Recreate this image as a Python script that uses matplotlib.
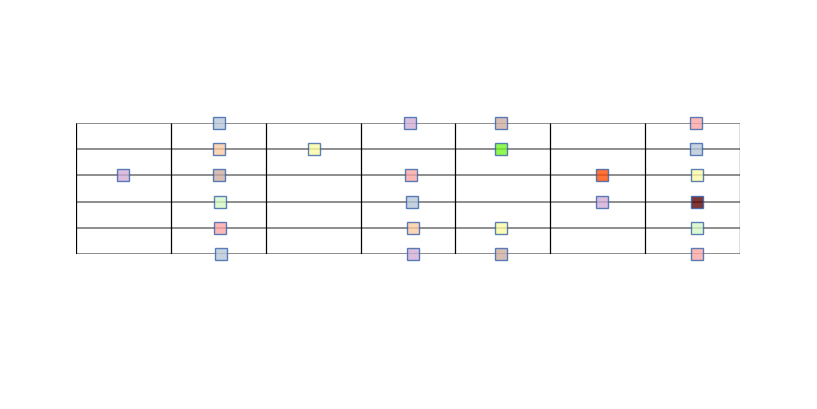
import matplotlib
matplotlib.use("Agg")
import matplotlib.pyplot as plt

# fretboard: 7 fret cells, 6 strings (1 = top line)
n_frets = 7
n_strings = 6

# notes: fret position (in cell units), string number, fill colour
note_pos = [0.50,
            1.51, 1.51, 1.51, 1.52, 1.52, 1.53,
            2.51,
            3.52, 3.53, 3.54, 3.55, 3.55,
            4.48, 4.48, 4.48, 4.48,
            5.54, 5.54,
            6.54, 6.54, 6.55, 6.55, 6.55, 6.55]
note_string = [3,
               1, 2, 3, 4, 5, 6,
               2,
               1, 3, 4, 5, 6,
               1, 2, 5, 6,
               3, 4,
               1, 2, 3, 4, 5, 6]
note_color = ["#d0abd6",
              "#b6c6d8", "#fccaa2", "#ccaca1", "#d6f8c3", "#fca3a3", "#b6c6d8",
              "#fcfca3",
              "#d0abd6", "#fca3a3", "#b6c6d8", "#fccaa2", "#d0abd6",
              "#ccaca1", "#73f823", "#fcfca3", "#ccaca1",
              "#ff4a00", "#d0abd6",
              "#fca3a3", "#b6c6d8", "#fcfca3", "#5a0000", "#d6f8c3", "#fca3a3"]

fig = plt.figure(figsize=(8.17, 4.09), dpi=100)
ax = fig.add_axes([76 / 817, 1 - 254 / 409, (740 - 76) / 817, (254 - 123) / 409])
ax.set_xlim(0, n_frets)
ax.set_ylim(n_strings, 1)
ax.axis("off")

# strings
ax.hlines(range(1, n_strings + 1), 0, n_frets, color="#7a7a7a", lw=1.2, zorder=1)
# frets
ax.vlines(range(0, n_frets + 1), 1, n_strings, color="black", lw=0.9, zorder=1)

for x, s, c in zip(note_pos, note_string, note_color):
    ax.plot(x, s, marker="s", ms=9, mfc=c, mec="#2f5fa8", mew=1.0,
            alpha=0.78, linestyle="none", clip_on=False, zorder=3)

fig.savefig("out.png", dpi=100)
